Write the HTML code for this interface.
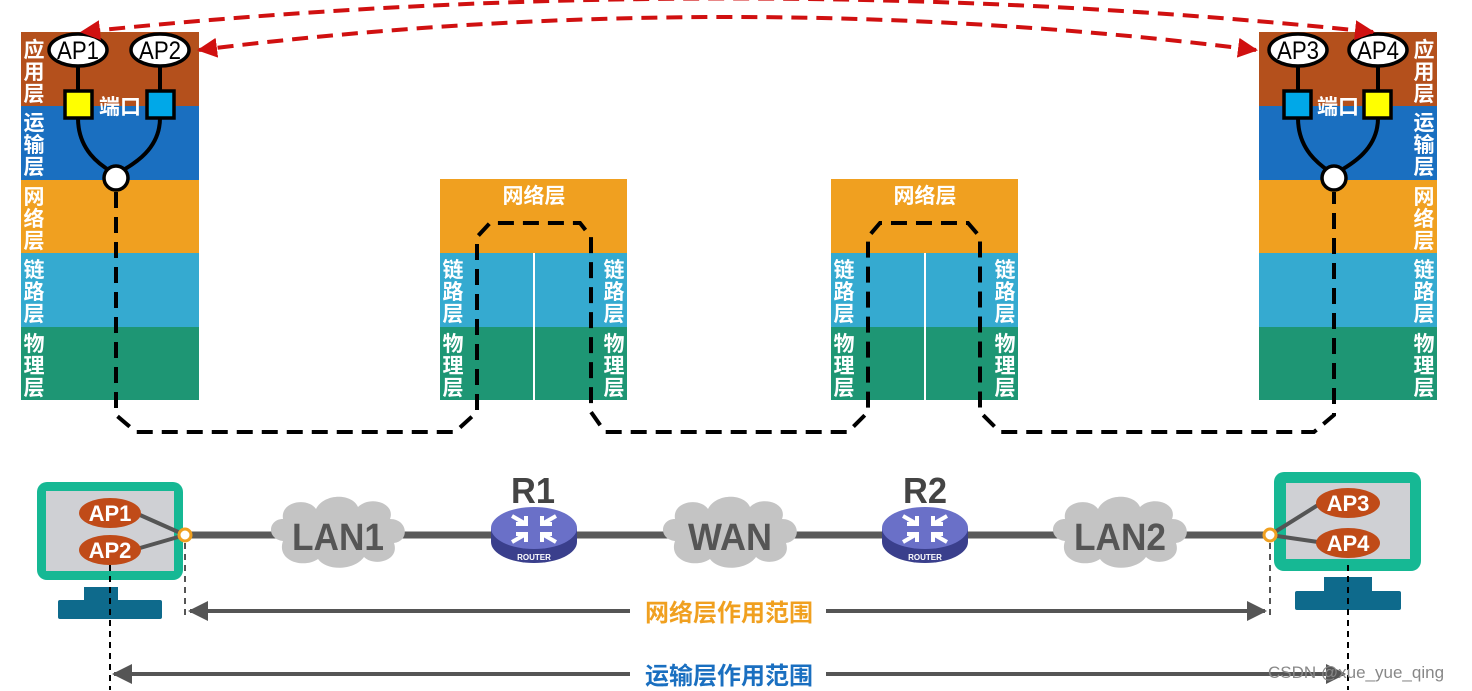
<!DOCTYPE html>
<html><head><meta charset="utf-8"><style>
html,body{margin:0;padding:0;background:#fff;}
svg{display:block;}
text{font-family:"Liberation Sans","Noto Sans CJK SC",sans-serif;font-weight:bold;}
</style></head><body>
<svg width="1472" height="691" viewBox="0 0 1472 691" xmlns="http://www.w3.org/2000/svg">
<defs>
<marker id="ra" viewBox="0 0 10 10" refX="9" refY="5" markerWidth="5" markerHeight="5" orient="auto-start-reverse"><path d="M0,0 L10,5 L0,10 z" fill="#d01010"/></marker>
<marker id="ga" viewBox="0 0 10 10" refX="9" refY="5" markerWidth="5" markerHeight="5" orient="auto-start-reverse"><path d="M0,0 L10,5 L0,10 z" fill="#555"/></marker>
<g id="cloud">
<path d="M-55,8 C-72,6 -70,-14 -55,-14 C-58,-32 -30,-36 -22,-24 C-14,-40 14,-40 20,-26 C32,-38 58,-30 52,-14 C70,-14 72,8 56,10 C62,28 36,34 26,24 C16,38 -12,38 -20,26 C-34,36 -62,28 -55,8 z" fill="#c4c4c4"/>
</g>
<g id="router">
<ellipse cx="0" cy="10" rx="43" ry="21" fill="#3a3f8c"/>
<rect x="-43" y="-4" width="86" height="14" fill="#3a3f8c"/>
<ellipse cx="0" cy="-4" rx="43" ry="21" fill="#6a70c8"/>
<g stroke="#fff" stroke-width="4" fill="none">
<path d="M-22,-16 L-8,-8 M-8,-16 L-8,-8 L-18,-8"/>
<path d="M22,-16 L8,-8 M8,-16 L8,-8 L18,-8"/>
<path d="M-22,10 L-8,2 M-8,10 L-8,2 L-18,2"/>
<path d="M22,10 L8,2 M8,10 L8,2 L18,2"/>
</g>
<text x="0" y="28" font-size="8" fill="#fff" text-anchor="middle">ROUTER</text>
</g>
</defs>

<rect x="21" y="32" width="178" height="74" fill="#b4501c"/>
<rect x="21" y="106" width="178" height="74" fill="#1a6fc0"/>
<rect x="21" y="180" width="178" height="73" fill="#f0a020"/>
<rect x="21" y="253" width="178" height="74" fill="#35aad0"/>
<rect x="21" y="327" width="178" height="73" fill="#1e9674"/>
<rect x="1259" y="32" width="178" height="74" fill="#b4501c"/>
<rect x="1259" y="106" width="178" height="74" fill="#1a6fc0"/>
<rect x="1259" y="180" width="178" height="73" fill="#f0a020"/>
<rect x="1259" y="253" width="178" height="74" fill="#35aad0"/>
<rect x="1259" y="327" width="178" height="73" fill="#1e9674"/>
<rect x="440" y="179" width="187" height="74" fill="#f0a020"/>
<rect x="440" y="253" width="187" height="74" fill="#35aad0"/>
<rect x="440" y="327" width="187" height="73" fill="#1e9674"/>
<line x1="534" y1="253" x2="534" y2="400" stroke="#fff" stroke-width="2"/>
<rect x="831" y="179" width="187" height="74" fill="#f0a020"/>
<rect x="831" y="253" width="187" height="74" fill="#35aad0"/>
<rect x="831" y="327" width="187" height="73" fill="#1e9674"/>
<line x1="925" y1="253" x2="925" y2="400" stroke="#fff" stroke-width="2"/>

<g fill="#fff" font-size="21" text-anchor="middle">
<text x="534" y="203">网络层</text>
<text x="925" y="203">网络层</text>
<text x="34" y="57">应</text><text x="34" y="79">用</text><text x="34" y="101">层</text>
<text x="34" y="130">运</text><text x="34" y="152">输</text><text x="34" y="174">层</text>
<text x="34" y="204">网</text><text x="34" y="226">络</text><text x="34" y="248">层</text>
<text x="34" y="277">链</text><text x="34" y="299">路</text><text x="34" y="321">层</text>
<text x="34" y="351">物</text><text x="34" y="373">理</text><text x="34" y="395">层</text>
<text x="1424" y="57">应</text><text x="1424" y="79">用</text><text x="1424" y="101">层</text>
<text x="1424" y="130">运</text><text x="1424" y="152">输</text><text x="1424" y="174">层</text>
<text x="1424" y="204">网</text><text x="1424" y="226">络</text><text x="1424" y="248">层</text>
<text x="1424" y="277">链</text><text x="1424" y="299">路</text><text x="1424" y="321">层</text>
<text x="1424" y="351">物</text><text x="1424" y="373">理</text><text x="1424" y="395">层</text>
<text x="453" y="277">链</text><text x="453" y="299">路</text><text x="453" y="321">层</text>
<text x="453" y="351">物</text><text x="453" y="373">理</text><text x="453" y="395">层</text>
<text x="614" y="277">链</text><text x="614" y="299">路</text><text x="614" y="321">层</text>
<text x="614" y="351">物</text><text x="614" y="373">理</text><text x="614" y="395">层</text>
<text x="844" y="277">链</text><text x="844" y="299">路</text><text x="844" y="321">层</text>
<text x="844" y="351">物</text><text x="844" y="373">理</text><text x="844" y="395">层</text>
<text x="1005" y="277">链</text><text x="1005" y="299">路</text><text x="1005" y="321">层</text>
<text x="1005" y="351">物</text><text x="1005" y="373">理</text><text x="1005" y="395">层</text>
<text x="120" y="114">端口</text>
<text x="1338" y="114">端口</text>
</g>

<g stroke="#000" stroke-width="4" fill="none">
<line x1="78" y1="66" x2="78" y2="92"/><line x1="160" y1="66" x2="160" y2="92"/>
<path d="M78,118 C78,150 100,165 112,172"/><path d="M160,118 C160,150 132,165 120,172"/>
<line x1="1298" y1="66" x2="1298" y2="92"/><line x1="1378" y1="66" x2="1378" y2="92"/>
<path d="M1298,118 C1298,150 1320,165 1330,172"/><path d="M1378,118 C1378,150 1350,165 1338,172"/>
</g>
<g stroke="#000" stroke-width="3.5">
<ellipse cx="78" cy="50" rx="29" ry="16" fill="#fff"/>
<ellipse cx="160" cy="50" rx="29" ry="16" fill="#fff"/>
<rect x="65" y="91" width="27" height="27" fill="#ffff00"/>
<rect x="147" y="91" width="27" height="27" fill="#00a8e8"/>
<circle cx="116" cy="178" r="12" fill="#fff"/>
<ellipse cx="1298" cy="50" rx="29" ry="16" fill="#fff"/>
<ellipse cx="1378" cy="50" rx="29" ry="16" fill="#fff"/>
<rect x="1284" y="91" width="27" height="27" fill="#00a8e8"/>
<rect x="1364" y="91" width="27" height="27" fill="#ffff00"/>
<circle cx="1334" cy="178" r="12" fill="#fff"/>
</g>
<g font-size="25" text-anchor="middle" fill="#000">
<text x="78" y="59" textLength="42" lengthAdjust="spacingAndGlyphs" style="font-weight:normal">AP1</text>
<text x="160" y="59" textLength="42" lengthAdjust="spacingAndGlyphs" style="font-weight:normal">AP2</text>
<text x="1298" y="59" textLength="42" lengthAdjust="spacingAndGlyphs" style="font-weight:normal">AP3</text>
<text x="1378" y="59" textLength="42" lengthAdjust="spacingAndGlyphs" style="font-weight:normal">AP4</text>
</g>

<path d="M116,192 L116,415 L136,432 L455,432 L477,412 L477,237 L490,223 L580,223 L591,237 L591,412 L605,432 L848,432 L868,412 L868,237 L880,223 L968,223 L980,237 L980,412 L1000,432 L1314,432 L1334,415 L1334,192" fill="none" stroke="#000" stroke-width="4" stroke-dasharray="16,9"/>

<path d="M1373,32 Q728,-35 82,32" fill="none" stroke="#d01010" stroke-width="4" stroke-dasharray="16,9" marker-start="url(#ra)" marker-end="url(#ra)"/>
<path d="M1256,50 Q728,-16 199,50" fill="none" stroke="#d01010" stroke-width="4" stroke-dasharray="16,9" marker-start="url(#ra)" marker-end="url(#ra)"/>

<line x1="185" y1="535" x2="1270" y2="535" stroke="#5a5a5a" stroke-width="7"/>
<use href="#cloud" x="338" y="533"/>
<use href="#cloud" x="730" y="533"/>
<use href="#cloud" x="1120" y="533"/>
<g fill="#555" font-size="38" text-anchor="middle">
<text x="338" y="550" textLength="92" lengthAdjust="spacingAndGlyphs">LAN1</text>
<text x="730" y="550" textLength="84" lengthAdjust="spacingAndGlyphs">WAN</text>
<text x="1120" y="550" textLength="92" lengthAdjust="spacingAndGlyphs">LAN2</text>
</g>
<use href="#router" x="534" y="532"/>
<use href="#router" x="925" y="532"/>
<g fill="#444" font-size="36" text-anchor="middle">
<text x="533" y="503" textLength="44" lengthAdjust="spacingAndGlyphs">R1</text><text x="925" y="503" textLength="44" lengthAdjust="spacingAndGlyphs">R2</text>
</g>

<rect x="37" y="482" width="146" height="98" rx="10" fill="#16b894"/>
<rect x="46" y="491" width="128" height="80" fill="#cfd0d4"/>
<rect x="84" y="587" width="34" height="14" fill="#0e6a8c"/>
<rect x="58" y="600" width="104" height="19" rx="2" fill="#0e6a8c"/>
<rect x="1274" y="472" width="147" height="99" rx="10" fill="#16b894"/>
<rect x="1286" y="483" width="124" height="76" fill="#cfd0d4"/>
<rect x="1324" y="577" width="48" height="15" fill="#0e6a8c"/>
<rect x="1295" y="591" width="106" height="19" rx="2" fill="#0e6a8c"/>

<g stroke="#555" stroke-width="4">
<line x1="140" y1="515" x2="185" y2="535"/><line x1="140" y1="548" x2="185" y2="535"/>
<line x1="1270" y1="535" x2="1318" y2="505"/><line x1="1270" y1="535" x2="1318" y2="542"/>
</g>
<g fill="#c04b18">
<ellipse cx="110" cy="513" rx="31" ry="15"/><ellipse cx="110" cy="550" rx="31" ry="15"/>
<ellipse cx="1348" cy="503" rx="32" ry="15"/><ellipse cx="1348" cy="543" rx="32" ry="15"/>
</g>
<g fill="#fff" font-size="22" text-anchor="middle">
<text x="110" y="521">AP1</text><text x="110" y="558">AP2</text>
<text x="1348" y="511">AP3</text><text x="1348" y="551">AP4</text>
</g>
<circle cx="185" cy="535" r="6" fill="#fff" stroke="#f0a020" stroke-width="3"/>
<circle cx="1270" cy="535" r="6" fill="#fff" stroke="#f0a020" stroke-width="3"/>

<g stroke-dasharray="6,5" stroke-width="2">
<line x1="185" y1="543" x2="185" y2="615" stroke="#555"/>
<line x1="1270" y1="543" x2="1270" y2="615" stroke="#555"/>
<line x1="110" y1="565" x2="110" y2="690" stroke="#000"/>
<line x1="1348" y1="565" x2="1348" y2="690" stroke="#000"/>
</g>
<line x1="190" y1="611" x2="1265" y2="611" stroke="#555" stroke-width="4" marker-start="url(#ga)" marker-end="url(#ga)"/>
<line x1="114" y1="674" x2="1344" y2="674" stroke="#555" stroke-width="4" marker-start="url(#ga)" marker-end="url(#ga)"/>
<rect x="630" y="595" width="196" height="32" fill="#fff"/>
<rect x="630" y="658" width="196" height="32" fill="#fff"/>
<g font-size="24" text-anchor="middle">
<text x="729" y="621" fill="#f0a020">网络层作用范围</text>
<text x="729" y="684" fill="#1a6fc0">运输层作用范围</text>
</g>
<text x="1268" y="678" font-size="17" fill="#888" style="font-weight:normal">CSDN @xue_yue_qing</text>
</svg>
</body></html>
